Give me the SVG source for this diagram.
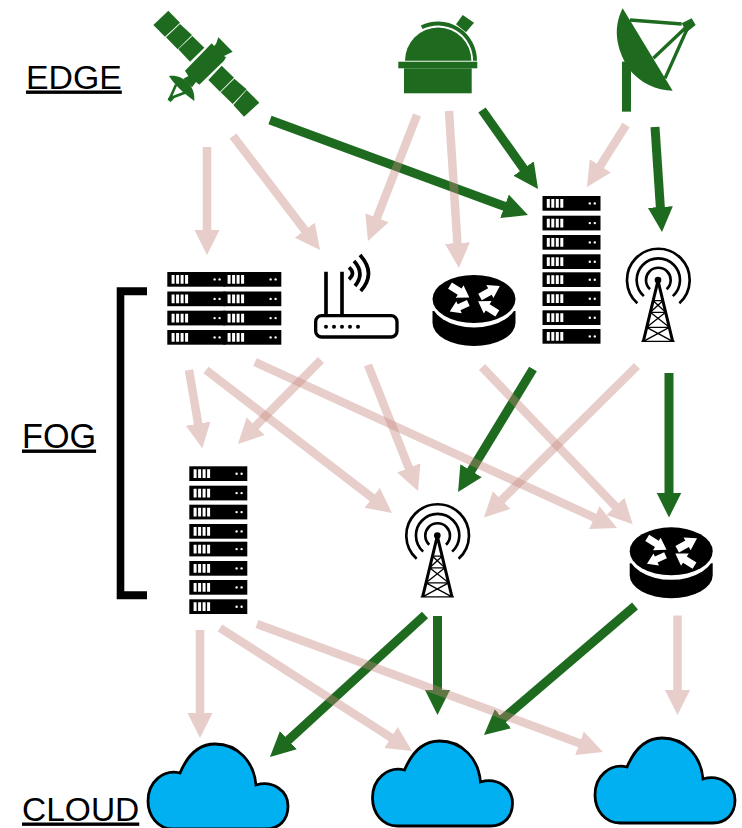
<svg xmlns="http://www.w3.org/2000/svg" width="742" height="828" viewBox="0 0 742 828">
<style>
.lbl{font-family:"Liberation Sans",Arial,sans-serif;font-size:33.5px;fill:#000;text-decoration:underline}
.pink{fill:none;stroke:#c6877d;stroke-width:8.500;opacity:.4;marker-end:url(#hp)}
.green{fill:none;stroke:#1e6b20;stroke-width:9;marker-end:url(#hg)}
.g{fill:#1e6b20}
.cloud{fill:#00b0f0;stroke:#000;stroke-width:2.800}
.tw{fill:none;stroke:#000}
.w{fill:#fff}
</style>
<defs>
<marker id="hp" markerUnits="userSpaceOnUse" markerWidth="26" markerHeight="26" refX="13" refY="12.5" orient="auto"><path d="M0,0L25,12.500L0,25Z" fill="#c6877d"/></marker>
<marker id="hg" markerUnits="userSpaceOnUse" markerWidth="26" markerHeight="26" refX="13" refY="12.5" orient="auto"><path d="M0,0L25,12.500L0,25Z" fill="#1e6b20"/></marker>
<g id="unit">
<rect width="58" height="14.700" fill="#000"/>
<path class="w" d="M4.300,3h3v8.700h-3zM8.800,3h3v8.700h-3zM13.300,3h3v8.700h-3zM17.800,3h3v8.700h-3z"/>
<circle class="w" cx="47.300" cy="7.400" r="1.200"/><circle class="w" cx="52.300" cy="7.400" r="1.200"/>
</g>
<path id="ra" class="w" d="M0,-11H34V-22L68,0L34,22V11H0Z"/>
<g id="routerIcon">
<path d="M432.500,311V323A41.500,23 0 0 0 515.500,323V311Z" fill="#000"/>
<ellipse cx="474" cy="299" rx="44" ry="28.500" fill="#fff"/>
<ellipse cx="474" cy="299" rx="41.500" ry="24" fill="#000"/>
<g transform="translate(425,268) scale(.33333)">
<use href="#ra" transform="translate(75,53) rotate(31.500)"/>
<use href="#ra" transform="translate(165,87) rotate(-29)"/>
<use href="#ra" transform="translate(130,105) rotate(155.600) scale(.9)"/>
<use href="#ra" transform="translate(217,136) rotate(212)"/>
</g>
</g>
<g id="towerIcon" transform="translate(620,244) scale(.33333)">
<path class="tw" stroke-width="8" d="M52,178A94,94 0 1 1 178,178M71.500,156.400A65,65 0 1 1 158.500,156.400M90,135.500A37,37 0 1 1 140,135.500"/>
<circle cx="114" cy="108" r="10" fill="#000"/>
<path class="tw" stroke-width="9" d="M114,110L70,292M114,110L158,292"/>
<path class="tw" stroke-width="4" d="M99.500,170H128.500M91,205H137M80,250H148M64,292H164M99.500,170L137,205M128.500,170L91,205M91,205L148,250M137,205L80,250M80,250L158,292M148,250L70,292"/>
</g>
<path id="cloudIcon" class="cloud" d="M32,29C40,10 52,0 67,0C90,0 106,18 108,41C125,36 140,47 140,62C140,76 131,85 118,85H25C10,85 0,72 0,57C0,38 15,25 32,29Z"/>
</defs>

<g id="connectors">
<g id="green-links">
<path class="green" d="M270,120L516.700,210.800"/>
<path class="green" d="M482,110L531.100,179.200"/>
<path class="green" d="M655,127L661.200,220"/>
<path class="green" d="M533,369L464.300,481.800"/>
<path class="green" d="M669,373V505.500"/>
<path class="green" d="M425,615L278.800,748.900"/>
<path class="green" d="M437.500,616V703"/>
<path class="green" d="M635,606L493.100,727.200"/>
</g>
<g id="pink-links">
<path class="pink" d="M207,147V243"/>
<path class="pink" d="M233,136L312.700,240.500"/>
<path class="pink" d="M417,115L372.300,229.800"/>
<path class="pink" d="M449,111L458.200,256"/>
<path class="pink" d="M626,125L593.400,176.800"/>
<path class="pink" d="M189,370L200.300,436.500"/>
<path class="pink" d="M206,370L382.500,505.700"/>
<path class="pink" d="M255,362L606.100,523"/>
<path class="pink" d="M321,360L246.400,435.500"/>
<path class="pink" d="M368,365L413.600,479.900"/>
<path class="pink" d="M482,367L624.400,515.700"/>
<path class="pink" d="M637,366L492.500,509"/>
<path class="pink" d="M200,630V726"/>
<path class="pink" d="M220,628L401.900,744.500"/>
<path class="pink" d="M257,624L591.700,747.800"/>
<path class="pink" d="M677.500,615.500V703"/>
</g>
</g>

<g id="label-edge"><text class="lbl" style="font-size:33.800px" x="26" y="88.500">EDGE</text></g>
<g id="label-fog"><text class="lbl" style="font-size:34.200px" x="22" y="447.500">FOG</text></g>
<g id="label-cloud"><text class="lbl" x="22" y="820.500">CLOUD</text></g>

<g id="fog-bracket"><path d="M116.700,287.300H147V295.300H124.300V591.300H147V599.300H116.700Z" fill="#000"/></g>

<g id="satellite" class="g" transform="translate(140,0) scale(.33333)">
<path d="M85,32L120,68L75,110L40,75Z"/>
<path d="M120,72L156,105L113,148L78,112Z"/>
<path d="M157,108L193,143L150,185L115,148Z"/>
<path d="M245,197L282,233L240,275L205,240Z"/>
<path d="M283,236L320,268L278,312L242,277Z"/>
<path d="M320,270L358,308L312,350L280,315Z"/>
<path d="M215,130L222,138L228,132L235,112L278,155L252,168L258,172L252,182L178,254L168,246L156,262L130,236L145,228L135,212Z"/>
<path d="M87,228C125,222 168,255 163,303C140,285 108,262 87,228Z"/>
<path d="M108,254L90,295L150,272" fill="none" stroke="#1e6b20" stroke-width="8"/>
<path d="M83,296L94,285L102,296L91,307Z"/>
</g>

<g id="observatory" class="g">
<rect x="404" y="68.300" width="67.700" height="25"/>
<rect x="398.300" y="61.700" width="79" height="6.600"/>
<path d="M405,60.700A33.200,33.200 0 0 1 471.400,60.700Z"/>
<path d="M421.700,27.300A37,37 0 0 1 475,60.700" fill="none" stroke="#1e6b20" stroke-width="4"/>
<path d="M462.700,15L474,22.700L466,32.300L456,24.300Z"/>
</g>

<g id="dish" class="g" transform="translate(380,0) scale(.33333)">
<rect x="726" y="185" width="27" height="150"/>
<path d="M728,25C700,80 705,140 745,205C780,250 830,272 878,272Z"/>
<path d="M905,70L935,55L947,75L920,97Z"/>
<path d="M750,60L905,72M820,175L915,85M855,235L920,90" fill="none" stroke="#1e6b20" stroke-width="10"/>
</g>

<g id="server-wide">
<use href="#unit" x="167.300" y="272"/><use href="#unit" x="223.300" y="272"/>
<use href="#unit" x="167.300" y="291.500"/><use href="#unit" x="223.300" y="291.500"/>
<use href="#unit" x="167.300" y="310.700"/><use href="#unit" x="223.300" y="310.700"/>
<use href="#unit" x="167.300" y="330"/><use href="#unit" x="223.300" y="330"/>
</g>

<g id="wifi-router" transform="translate(150,240) scale(.33333)">
<rect x="497" y="227" width="244" height="64" rx="18" fill="#fff" stroke="#000" stroke-width="10"/>
<path d="M528,95V227M576,95V227" stroke="#000" stroke-width="11" fill="none"/>
<path d="M597,82Q618,100 597,118M612,63Q646,100 615,138M630,45Q680,100 632,153" stroke="#000" stroke-width="11" fill="none"/>
<circle cx="528" cy="260" r="6"/><circle cx="552" cy="260" r="6"/><circle cx="576" cy="260" r="6"/><circle cx="600" cy="260" r="6"/><circle cx="624" cy="260" r="6"/>
</g>

<g id="router-1"><use href="#routerIcon"/></g>

<g id="server-tall-1">
<use href="#unit" x="542.500" y="196"/><use href="#unit" x="542.500" y="215.700"/><use href="#unit" x="542.500" y="235"/><use href="#unit" x="542.500" y="254.300"/><use href="#unit" x="542.500" y="272.300"/><use href="#unit" x="542.500" y="291.300"/><use href="#unit" x="542.500" y="310.300"/><use href="#unit" x="542.500" y="329"/>
</g>

<g id="tower-1"><use href="#towerIcon"/></g>

<g id="server-tall-2">
<use href="#unit" x="189.300" y="466.300"/><use href="#unit" x="189.300" y="485.700"/><use href="#unit" x="189.300" y="504.700"/><use href="#unit" x="189.300" y="524"/><use href="#unit" x="189.300" y="541.700"/><use href="#unit" x="189.300" y="561"/><use href="#unit" x="189.300" y="580"/><use href="#unit" x="189.300" y="599.300"/>
</g>

<g id="tower-2"><use href="#towerIcon" x="-220.700" y="255.500"/></g>
<g id="router-2"><use href="#routerIcon" x="197.200" y="252.300"/></g>

<g id="cloud-1"><use href="#cloudIcon" x="148" y="744"/></g>
<g id="cloud-2"><use href="#cloudIcon" x="372.500" y="741"/></g>
<g id="cloud-3"><use href="#cloudIcon" x="595" y="738"/></g>
</svg>
